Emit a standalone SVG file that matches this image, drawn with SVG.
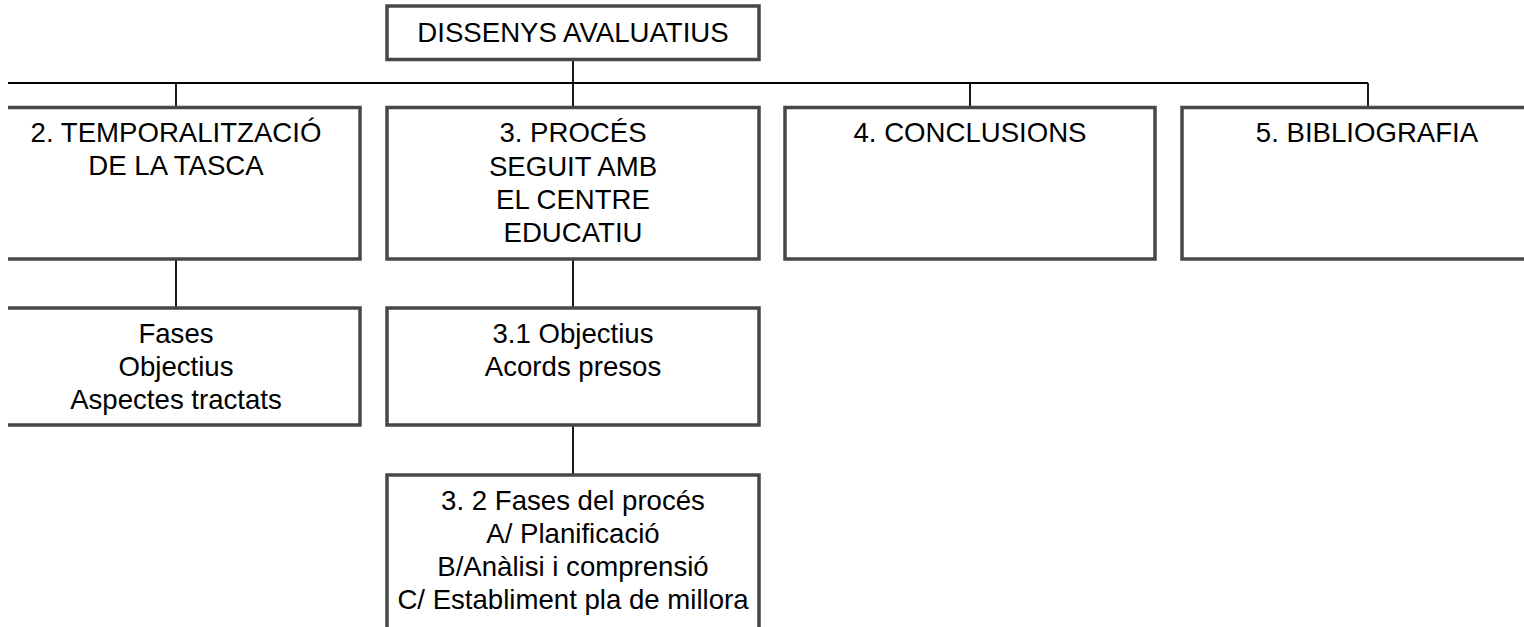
<svg xmlns="http://www.w3.org/2000/svg" width="1524" height="627" viewBox="0 0 1524 627">
<style>
.box{fill:#ffffff;stroke:#474747;stroke-width:3.5}
.edge{fill:none;stroke:#474747;stroke-width:3.5}
.conn{fill:none;stroke:#000000;stroke-width:1.8}
text{font-family:"Liberation Sans",Arial,sans-serif;font-size:27.6px;fill:#000000;text-anchor:middle}
</style>
<rect width="1524" height="627" fill="#ffffff"/>
<g id="connectors">
<line class="conn" x1="573" y1="59" x2="573" y2="107"/>
<line class="conn" x1="8" y1="83" x2="1368" y2="83"/>
<line class="conn" x1="176" y1="83" x2="176" y2="107"/>
<line class="conn" x1="970" y1="83" x2="970" y2="107"/>
<line class="conn" x1="1368" y1="83" x2="1368" y2="107"/>
<line class="conn" x1="176" y1="259" x2="176" y2="308"/>
<line class="conn" x1="573" y1="259" x2="573" y2="308"/>
<line class="conn" x1="573" y1="425" x2="573" y2="475"/>
</g>
<g id="node-root">
<rect class="box" x="387" y="6" width="372" height="53.5"/>
<text x="573" y="42">DISSENYS AVALUATIUS</text>
</g>
<g id="node-2">
<rect x="8" y="107.5" width="352" height="151.5" fill="#ffffff"/>
<path class="edge" d="M8,107.5 H360 V259 H8"/>
<text x="176" y="142">2. TEMPORALITZACIÓ</text>
<text x="176" y="175">DE LA TASCA</text>
</g>
<g id="node-3">
<rect class="box" x="387" y="107.5" width="372" height="151.5"/>
<text x="573" y="142">3. PROCÉS</text>
<text x="573" y="175.5">SEGUIT AMB</text>
<text x="573" y="208.5">EL CENTRE</text>
<text x="573" y="241.5">EDUCATIU</text>
</g>
<g id="node-4">
<rect class="box" x="785" y="107.5" width="370" height="151.5"/>
<text x="970" y="142">4. CONCLUSIONS</text>
</g>
<g id="node-5">
<rect class="box" x="1182" y="107.5" width="360" height="151.5"/>
<text x="1367" y="142">5. BIBLIOGRAFIA</text>
</g>
<g id="node-2-1">
<rect x="8" y="308" width="352" height="117" fill="#ffffff"/>
<path class="edge" d="M8,308 H360 V425 H8"/>
<text x="176" y="342.5">Fases</text>
<text x="176" y="375.5">Objectius</text>
<text x="176" y="408.5">Aspectes tractats</text>
</g>
<g id="node-3-1">
<rect class="box" x="387" y="308" width="372" height="117"/>
<text x="573" y="342.5">3.1 Objectius</text>
<text x="573" y="375.5">Acords presos</text>
</g>
<g id="node-3-2">
<rect class="box" x="387" y="475" width="372" height="170"/>
<text x="573" y="510">3. 2 Fases del procés</text>
<text x="573" y="542.5">A/ Planificació</text>
<text x="573" y="576">B/Anàlisi i comprensió</text>
<text x="573" y="608.5">C/ Establiment pla de millora</text>
</g>
</svg>
